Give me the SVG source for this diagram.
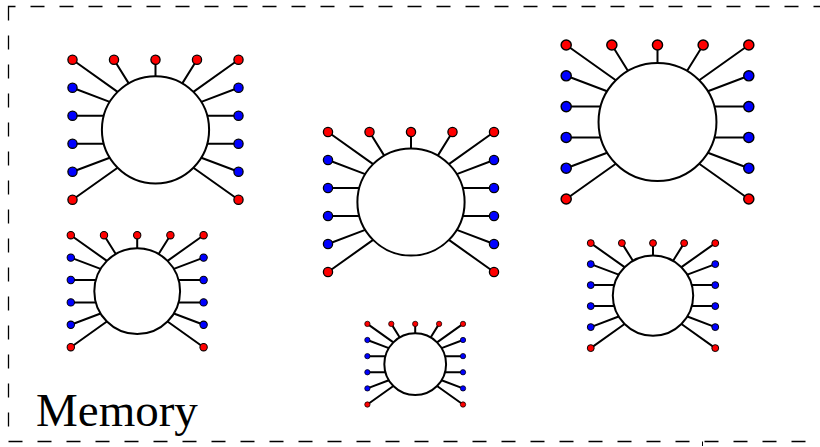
<svg xmlns="http://www.w3.org/2000/svg" xmlns:xlink="http://www.w3.org/1999/xlink" width="820" height="447" viewBox="0 0 820 447">
  <style>
    .frame { fill: none; stroke: #000; stroke-width: 1.3; stroke-dasharray: 14 15; stroke-dashoffset: 7; }
    .leg { fill: none; stroke: #000; stroke-width: 2; vector-effect: non-scaling-stroke; }
    .body { fill: #fff; stroke: #000; stroke-width: 2; vector-effect: non-scaling-stroke; }
    .pin { stroke: #000; stroke-width: 1.3; vector-effect: non-scaling-stroke; }
    .sig { fill: #ff0000; }
    .data { fill: #0000ff; }
    .label { font-family: "Liberation Serif", "Times New Roman", serif; font-size: 47px; fill: #000; }
  </style>
  <defs>
    <!-- one memory cell: round body with 16 legs, drawn around (0,0) at unit scale -->
    <g id="cell">
      <path class="leg" d="
        M-83,-70 L-37.9,-37.9  M-41.5,-70 L-26.8,-46.4  M0,-70 L0,-53.6  M41.5,-70 L26.8,-46.4  M83,-70 L37.9,-37.9
        M-83,-42 L-45.8,-27.9  M-83,-14 L-51.7,-14  M-83,14 L-51.7,14  M-83,42 L-45.8,27.9  M-83,70 L-37.9,37.9
        M83,-42 L45.8,-27.9  M83,-14 L51.7,-14  M83,14 L51.7,14  M83,42 L45.8,27.9  M83,70 L37.9,37.9"/>
      <circle class="body" cx="0" cy="0" r="53.6"/>
      <g class="pin sig">
        <circle cx="-83" cy="-70" r="4.6"/>
        <circle cx="-41.5" cy="-70" r="4.6"/>
        <circle cx="0" cy="-70" r="4.6"/>
        <circle cx="41.5" cy="-70" r="4.6"/>
        <circle cx="83" cy="-70" r="4.6"/>
        <circle cx="-83" cy="70" r="4.6"/>
        <circle cx="83" cy="70" r="4.6"/>
      </g>
      <g class="pin data">
        <circle cx="-83" cy="-42" r="4.6"/>
        <circle cx="-83" cy="-14" r="4.6"/>
        <circle cx="-83" cy="14" r="4.6"/>
        <circle cx="-83" cy="42" r="4.6"/>
        <circle cx="83" cy="-42" r="4.6"/>
        <circle cx="83" cy="-14" r="4.6"/>
        <circle cx="83" cy="14" r="4.6"/>
        <circle cx="83" cy="42" r="4.6"/>
      </g>
    </g>
  </defs>

  <!-- dashed boundary of the memory region -->
  <g id="memory-frame">
    <rect class="frame" x="8.5" y="6.5" width="830" height="435"/>
    <line x1="702.5" y1="441.5" x2="702.5" y2="446" stroke="#000" stroke-width="1"/>
    <text class="label" x="36" y="426">Memory</text>
  </g>

  <g id="cells">
    <g id="cell-1"><use xlink:href="#cell" href="#cell" transform="translate(155.5,129.8)"/></g>
    <g id="cell-2"><use xlink:href="#cell" href="#cell" transform="translate(411,202)"/></g>
    <g id="cell-3"><use xlink:href="#cell" href="#cell" transform="translate(657.5,122) scale(1.1)"/></g>
    <g id="cell-4"><use xlink:href="#cell" href="#cell" transform="translate(137.2,291.2) scale(0.8)"/></g>
    <g id="cell-5"><use xlink:href="#cell" href="#cell" transform="translate(415.2,364.2) scale(0.576)"/></g>
    <g id="cell-6"><use xlink:href="#cell" href="#cell" transform="translate(653,295.6) scale(0.75)"/></g>
  </g>

  <g id="connectors"/>
</svg>
